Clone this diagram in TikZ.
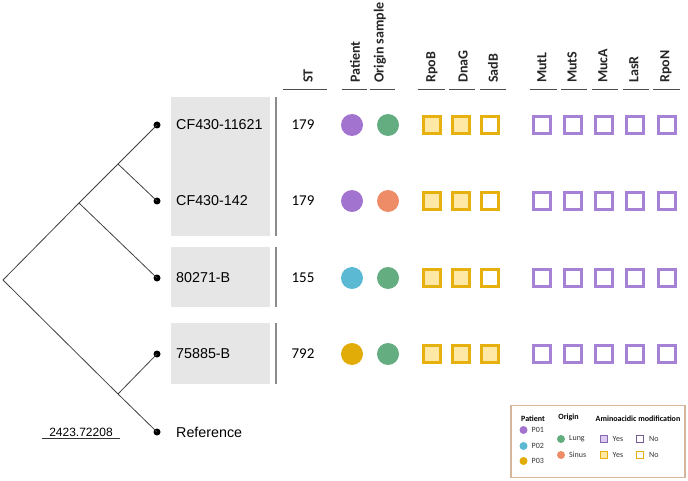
\documentclass[tikz,border=0pt]{standalone}
\usepackage{fontspec}
\setmainfont{Liberation Sans}
\newfontfamily\calib{Carlito}
\definecolor{cPurple}{HTML}{A274D0}
\definecolor{cGreen}{HTML}{63AD80}
\definecolor{cSalmon}{HTML}{EF8C68}
\definecolor{cCyan}{HTML}{5BB9D4}
\definecolor{cGold}{HTML}{E2AC08}
\definecolor{sqYel}{HTML}{E6B10E}
\definecolor{sqYelFill}{HTML}{FFE7A6}
\definecolor{sqPur}{HTML}{A682D6}
\definecolor{sqPurFill}{HTML}{DCCBF2}
\definecolor{boxGray}{HTML}{E6E6E6}
\definecolor{legBorder}{HTML}{D6B69B}
\tikzset{
  branch/.style={draw=black!75, line width=0.8pt},
  leafdot/.style={circle, fill=black, inner sep=0pt, minimum size=7pt},
  leaflbl/.style={anchor=west, inner sep=0pt, font=\fontsize{14.3}{16}\selectfont},
  graybox/.style={fill=boxGray, draw=none, inner sep=0pt},
  sepline/.style={draw=black!45, line width=1.3pt},
  hdr/.style={rotate=90, anchor=west, inner sep=0pt, font=\calib\bfseries\fontsize{14}{16}\selectfont, text=black!85},
  uline/.style={draw=black!70, line width=0.8pt},
  stnum/.style={inner sep=0pt, font=\calib\fontsize{15}{17}\selectfont},
  bigc/.style={circle, inner sep=0pt, minimum size=22pt, draw=none},
  ysq/.style={rectangle, inner sep=0pt, minimum size=17.3pt, draw=sqYel, line width=2.7pt, fill=#1},
  ysq/.default=white,
  psq/.style={rectangle, inner sep=0pt, minimum size=17.3pt, draw=sqPur, line width=2.7pt, fill=white},
  legtxt/.style={anchor=west, inner sep=0pt, font=\calib\fontsize{8}{9}\selectfont, text=black!80},
  leghdr/.style={inner sep=0pt, font=\calib\bfseries\fontsize{8}{9}\selectfont},
  legc/.style={circle, inner sep=0pt, minimum size=8pt, draw=none},
  legsq/.style={rectangle, inner sep=0pt, minimum size=6.5pt, line width=1.1pt},
}
\begin{document}
\begin{tikzpicture}[x=1pt,y=-1pt]
\useasboundingbox (0,0) rectangle (688,481);
% gray boxes
\node[graybox, minimum width=99pt, minimum height=139pt] (g1) at (220.5,166.5) {};
\node[graybox, minimum width=99pt, minimum height=60pt] (g2) at (220.5,277) {};
\node[graybox, minimum width=99pt, minimum height=61pt] (g3) at (220.5,353.5) {};
% separator lines
\draw[sepline] (276,97) -- (276,236);
\draw[sepline] (276,247) -- (276,307);
\draw[sepline] (276,323) -- (276,384);
% tree
\coordinate (root) at (3,280);
\coordinate (nB) at (79,203);
\coordinate (nA) at (118,164);
\coordinate (nC) at (118,394);
\node[leafdot] (l1) at (157,125) {};
\node[leafdot] (l2) at (157,201) {};
\node[leafdot] (l3) at (157,278) {};
\node[leafdot] (l4) at (157,354) {};
\node[leafdot] (l5) at (157,432) {};
\draw[branch] (root) -- (nB) -- (nA) -- (l1.center);
\draw[branch] (nA) -- (l2.center);
\draw[branch] (nB) -- (l3.center);
\draw[branch] (root) -- (nC) -- (l5.center);
\draw[branch] (nC) -- (l4.center);
% leaf labels
\node[leaflbl] (t1) at (176,125) {CF430-11621};
\node[leaflbl] (t2) at (176,201) {CF430-142};
\node[leaflbl] (t3) at (176,278) {80271-B};
\node[leaflbl] (t4) at (176,354) {75885-B};
\node[leaflbl] (t5) at (176,432) {Reference};
% scale bar
\draw[draw=black!80, line width=0.8pt] (42,438.5) -- (120,438.5);
\node[inner sep=0pt, anchor=base, font=\fontsize{12}{14}\selectfont] (scl) at (81,436.5) {2423.72208};
% headers
\node[hdr] (hST) at (308,83) {ST};
\node[hdr] (hPat) at (355,83) {Patient};
\node[hdr] (hOri) at (380,83) {Origin sample};
\node[hdr] (hRpoB) at (432,83) {RpoB};
\node[hdr] (hDnaG) at (463,83) {DnaG};
\node[hdr] (hSadB) at (493,83) {SadB};
\node[hdr] (hMutL) at (542,83) {MutL};
\node[hdr] (hMutS) at (572,83) {MutS};
\node[hdr] (hMucA) at (603,83) {MucA};
\node[hdr] (hLasR) at (634,83) {LasR};
\node[hdr] (hRpoN) at (666,83) {RpoN};
% underlines
\draw[uline] (283,89) -- (327,89);
\draw[uline] (342,89) -- (367,89);
\draw[uline] (370,89) -- (395,89);
\draw[uline] (418,89) -- (445,89);
\draw[uline] (449,89) -- (475,89);
\draw[uline] (480,89) -- (506,89);
\draw[uline] (530,89) -- (557,89);
\draw[uline] (561,89) -- (587,89);
\draw[uline] (592,89) -- (618,89);
\draw[uline] (623,89) -- (649,89);
\draw[uline] (653,89) -- (680,89);
% rows
\foreach \r/\st/\pc/\oc/\sf in {1/179/cPurple/cGreen/white, 2/179/cPurple/cSalmon/white, 3/155/cCyan/cGreen/white, 4/792/cGold/cGreen/sqYelFill}{
  \pgfmathsetmacro{\yy}{\r==1 ? 125 : (\r==2 ? 201 : (\r==3 ? 278 : 354))}
  \node[stnum] (st\r) at (303,\yy) {\st};
  \node[bigc, fill=\pc] (pat\r) at (352,\yy) {};
  \node[bigc, fill=\oc] (ori\r) at (388,\yy) {};
  \node[ysq=sqYelFill] (rpob\r) at (432,\yy) {};
  \node[ysq=sqYelFill] (dnag\r) at (461,\yy) {};
  \node[ysq=\sf] (sadb\r) at (490,\yy) {};
  \node[psq] (mutl\r) at (542,\yy) {};
  \node[psq] (muts\r) at (573,\yy) {};
  \node[psq] (muca\r) at (604,\yy) {};
  \node[psq] (lasr\r) at (635,\yy) {};
  \node[psq] (rpon\r) at (667,\yy) {};
}
% legend
\node[draw=legBorder, line width=1.1pt, inner sep=0pt, minimum width=174pt, minimum height=72.5pt] (leg) at (598,441.5) {};
\node[leghdr] (lgP) at (533,418.5) {Patient};
\node[leghdr] (lgO) at (568.5,417.5) {Origin};
\node[leghdr] (lgA) at (638,418.5) {Aminoacidic modification};
\node[legc, fill=cPurple] (lc1) at (523.5,430) {};
\node[legtxt] (lt1) at (531.5,430) {P01};
\node[legc, fill=cCyan] (lc2) at (523.5,446) {};
\node[legtxt] (lt2) at (531.5,446) {P02};
\node[legc, fill=cGold] (lc3) at (523.5,461) {};
\node[legtxt] (lt3) at (531.5,461) {P03};
\node[legc, fill=cGreen] (lc4) at (561,439) {};
\node[legtxt] (lt4) at (569,439) {Lung};
\node[legc, fill=cSalmon] (lc5) at (561,455) {};
\node[legtxt] (lt5) at (569,455) {Sinus};
\node[legsq, draw=sqPur!80!black, fill=sqPurFill] (ls1) at (604,439) {};
\node[legtxt] (ls1t) at (612.5,439) {Yes};
\node[legsq, draw=sqPur!70!black, fill=white] (ls2) at (640,439) {};
\node[legtxt] (ls2t) at (649,439) {No};
\node[legsq, draw=sqYel, fill=sqYelFill] (ls3) at (604,455) {};
\node[legtxt] (ls3t) at (612.5,455) {Yes};
\node[legsq, draw=sqYel, fill=white] (ls4) at (640,455) {};
\node[legtxt] (ls4t) at (649,455) {No};
\end{tikzpicture}
\end{document}
